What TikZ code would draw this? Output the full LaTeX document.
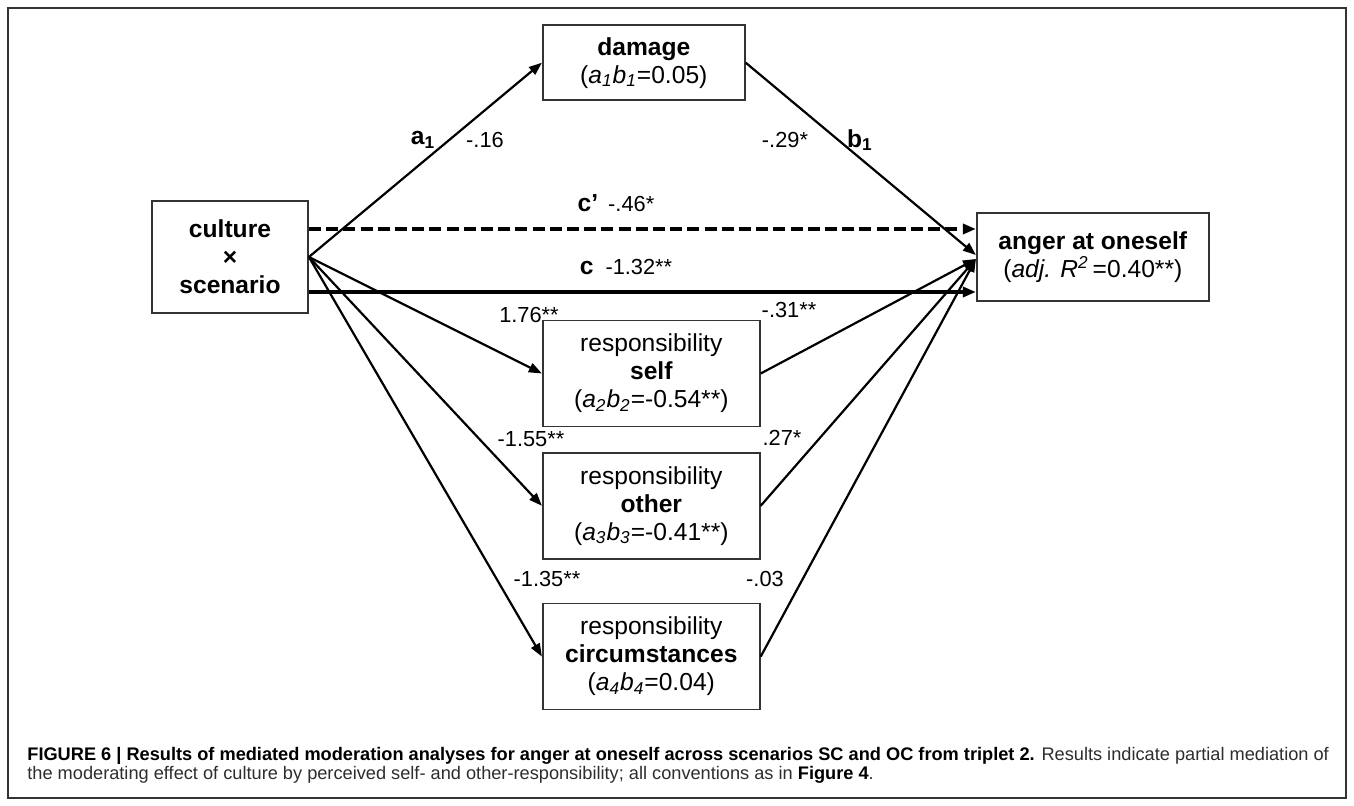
\documentclass[tikz,border=0pt]{standalone}
\usepackage{fontspec}
\setmainfont{Liberation Sans}
\usetikzlibrary{arrows.meta,positioning}
\definecolor{boxgray}{RGB}{51,51,51}
\definecolor{capgray}{RGB}{45,45,45}

\begin{document}
\begin{tikzpicture}[x=1pt, y=1pt,
    box/.style={rectangle, draw=boxgray, line width=0.9pt, inner sep=0pt, align=center, font=\fontsize{12.3}{14}\selectfont},
    medbox/.style={box, minimum width=108.5pt, minimum height=53pt},
    arr/.style={-{Triangle[length=6.5pt, width=4.8pt]}, line width=1.1pt},
    direct/.style={-{Triangle[length=6.5pt, width=5pt]}, line width=1.7pt},
    lbl/.style={font=\fontsize{10.9}{13}\selectfont, inner sep=0pt},
    captext/.style={font=\fontsize{9.1}{9.75}\selectfont, align=left, inner sep=0pt, text=capgray},
    node distance=12.25pt
]
  \useasboundingbox (-115,128.5) rectangle (562,-274.5);
  \draw[boxgray, line width=0.6pt] (-111,124.5) rectangle (558,-270.5);

  % boxes
  \node[box, minimum width=78pt, minimum height=56pt] (culture) at (0,0) {\textbf{culture}\\\textbf{×}\\\textbf{scenario}};
  \node[box, minimum width=116pt, minimum height=44pt, right=333.5pt of culture] (anger) {\textbf{anger at oneself}\\(\textit{adj. R}\textsuperscript{\textit{2}}\,=0.40**)};
  \node[medbox, anchor=west] (self) at ([xshift=116.5pt, yshift=-58.25pt]culture.east) {responsibility\\\textbf{self}\\(\textit{a\textsubscript{2}b\textsubscript{2}}=-0.54**)};
  \node[medbox, below=of self] (other) {responsibility\\\textbf{other}\\(\textit{a\textsubscript{3}b\textsubscript{3}}=-0.41**)};
  \node[medbox, below=21.5pt of other] (circ) {responsibility\\\textbf{circumstances}\\(\textit{a\textsubscript{4}b\textsubscript{4}}=0.04)};
  \node[box, minimum width=101pt, minimum height=37.5pt, above=109.25pt of self.north west, anchor=south west] (damage) {\textbf{damage}\\(\textit{a\textsubscript{1}b\textsubscript{1}}=0.05)};

  % paths
  \draw[arr] (culture.east) -- (damage.west);
  \draw[arr] (damage.east) -- ([yshift=1pt]anger.west);
  \draw[direct, dash pattern=on 6pt off 2.6pt] ([yshift=14pt]culture.east) -- ([yshift=14pt]anger.west);
  \draw[direct] ([yshift=-17.5pt]culture.east) -- ([yshift=-17.5pt]anger.west);
  \foreach \med in {self, other, circ} {
    \draw[arr] (culture.east) -- (\med.west);
    \draw[arr] (\med.east) -- ([yshift=-1pt]anger.west);
  }

  % coefficients
  \node[lbl] (la1) at (96.5,58.5) {\fontsize{12.3}{14}\selectfont\textbf{a\textsubscript{1}}};
  \node[lbl] (va1) at (127.5,58.5) {-.16};
  \node[lbl] (vb1) at (277.5,58.5) {-.29*};
  \node[lbl] (lb1) at (315,58.5) {\fontsize{12.3}{14}\selectfont\textbf{b\textsubscript{1}}};
  \node[lbl] (vcp) at (193,27) {{\fontsize{12.3}{14}\selectfont\textbf{c’}}\hspace{5pt}-.46*};
  \node[lbl] (vc) at (198,-5) {{\fontsize{12.3}{14}\selectfont\textbf{c}}\hspace{6pt}-1.32**};
  \node[lbl] (va2) at (149.5,-29) {1.76**};
  \node[lbl] (vb2) at (279.5,-26.5) {-.31**};
  \node[lbl] (va3) at (150.5,-91) {-1.55**};
  \node[lbl] (vb3) at (276,-90.5) {.27*};
  \node[lbl] (va4) at (158.5,-161) {-1.35**};
  \node[lbl] (vb4) at (267.5,-161) {-.03};

  % caption
  \node[captext, anchor=base west] (caption) at (-101.5,-261.5) {\textcolor{black}{\textbf{FIGURE 6 | Results of mediated moderation analyses for anger at oneself across scenarios SC and OC from triplet 2.}} Results indicate partial mediation of\\the moderating effect of culture by perceived self- and other-responsibility; all conventions as in \textcolor{black}{\textbf{Figure 4}}.};
\end{tikzpicture}
\end{document}
